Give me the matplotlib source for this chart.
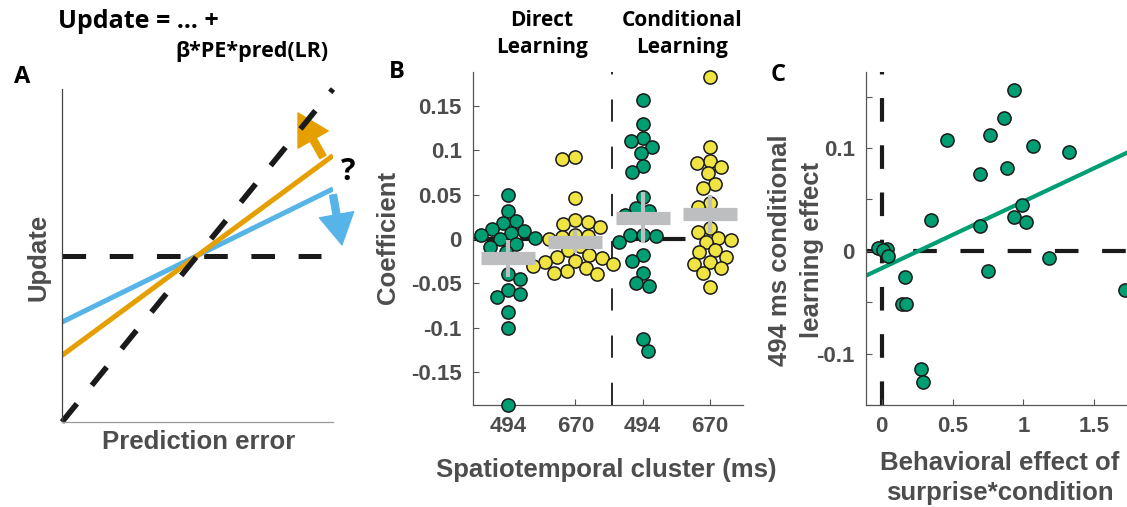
import numpy as np
import matplotlib
matplotlib.use("Agg")
import matplotlib.pyplot as plt
from matplotlib.patches import FancyArrowPatch, ArrowStyle

plt.rcParams['lines.scale_dashes'] = False

# ---------------- data ----------------
# Panel A (schematic)
pe_range = [0.0, 1.0]
slope_full = 1.0       # black dashed diagonal
slope_orange = 0.6
slope_blue = 0.4
pivot = 0.5

# Panel B
cluster_labels = ['494', '670', '494', '670']
direct_494 = [0.050, 0.031, 0.020, 0.018, 0.011, 0.009, 0.007, 0.004, 0.001, 0.0,
              -0.006, -0.009, -0.015, -0.040, -0.045, -0.058, -0.062, -0.065,
              -0.082, -0.100, -0.187]
direct_670 = [0.092, 0.090, 0.046, 0.021, 0.019, 0.017, 0.014, 0.005, 0.003, 0.002,
              0.0, -0.008, -0.012, -0.018, -0.020, -0.021, -0.025, -0.026, -0.028,
              -0.031, -0.033, -0.036, -0.038, -0.040]
cond_494 = [0.156, 0.130, 0.114, 0.110, 0.104, 0.097, 0.082, 0.075, 0.047, 0.035,
            0.032, 0.027, 0.005, 0.004, 0.003, -0.004, -0.018, -0.025, -0.038,
            -0.050, -0.053, -0.113, -0.126]
cond_670 = [0.182, 0.103, 0.088, 0.085, 0.081, 0.074, 0.062, 0.057, 0.040, 0.036,
            0.012, 0.008, 0.001, -0.001, -0.003, -0.013, -0.015, -0.020, -0.026,
            -0.028, -0.033, -0.038, -0.054]
group_means = [-0.022, -0.003, 0.024, 0.028]
group_ci = [0.021, 0.013, 0.029, 0.021]

# Panel C
behav_effect = [0.933, 0.862, 0.763, 0.461, 1.070, 1.323, 0.692, 0.886, 0.992, 0.933,
                1.016, 0.697, 0.350, -0.024, 0.035, 0.012, 0.047, 1.181, 0.751,
                0.165, 0.142, 0.172, 0.279, 0.291, 1.713]
neural_effect = [0.156, 0.129, 0.113, 0.108, 0.102, 0.096, 0.075, 0.081, 0.045, 0.033,
                 0.028, 0.024, 0.030, 0.003, 0.002, 0.001, -0.005, -0.0065, -0.020,
                 -0.025, -0.052, -0.052, -0.115, -0.128, -0.038]
fit_intercept = -0.017
fit_slope = 0.065

# ---------------- style ----------------
GREEN = '#009E73'
YELLOW = '#F0E442'
ORANGE = '#E69F00'
BLUE = '#56B4E9'
GREY_BAR = '#bcbec0'
TXT = '#4d4d4d'
EDGE = '#1a1a1a'
SANS = 'Liberation Sans'
HEAD = 'Open Sans'
DASH = (0, (17, 17))

W, H = 1127, 507
fig = plt.figure(figsize=(W / 100, H / 100), dpi=100)


def px_axes(l, t, r, b):
    return fig.add_axes([l / W, 1 - b / H, (r - l) / W, (b - t) / H])


def ftext(x, y, s, **kw):
    fig.text(x / W, 1 - y / H, s, **kw)


# ---------------- Panel A ----------------
axA = px_axes(62, 89, 333, 422)
axA.set_xlim(0, 1)
axA.set_ylim(0, 1)
for sp in ['top', 'right']:
    axA.spines[sp].set_visible(False)
axA.spines['left'].set_color('#444444')
axA.spines['bottom'].set_color('#999999')
axA.spines['left'].set_linewidth(0.9)
axA.spines['bottom'].set_linewidth(0.9)
axA.set_xticks([])
axA.set_yticks([])
xx = np.array(pe_range)
axA.plot([0, 0.955], [pivot, pivot], color='#1a1a1a', lw=3.6, linestyle=DASH,
         dash_capstyle='butt')
axA.plot(xx, pivot + slope_blue * (xx - pivot), color=BLUE, lw=3.6, solid_capstyle='butt')
axA.plot(xx, pivot + slope_orange * (xx - pivot), color=ORANGE, lw=3.6, solid_capstyle='butt')
axA.plot(xx, pivot + slope_full * (xx - pivot), color='#1a1a1a', lw=4, linestyle=DASH,
         dash_capstyle='butt', clip_on=False)
arr_o = FancyArrowPatch((0.963, 0.796), (0.871, 0.928),
                        arrowstyle=ArrowStyle.Simple(head_length=22, head_width=25, tail_width=5),
                        color=ORANGE, mutation_scale=1, shrinkA=0, shrinkB=0,
                        transform=axA.transData, clip_on=False)
axA.add_patch(arr_o)
arr_b = FancyArrowPatch((1.0, 0.682), (1.033, 0.532),
                        arrowstyle=ArrowStyle.Simple(head_length=22, head_width=25, tail_width=5),
                        color=BLUE, mutation_scale=1, shrinkA=0, shrinkB=0,
                        transform=axA.transData, clip_on=False)
axA.add_patch(arr_b)
ftext(348, 172, '?', fontsize=22, fontweight='bold', family=HEAD, ha='center', va='center')
ftext(199, 442, 'Prediction error', fontsize=18.5, fontweight='bold', family=SANS,
      color=TXT, ha='center', va='center')
ftext(38, 257, 'Update', fontsize=18.5, fontweight='bold', family=SANS, color=TXT,
      ha='center', va='center', rotation=90)
ftext(138, 21, 'Update = ... +', fontsize=18, fontweight='bold', family=HEAD,
      ha='center', va='center')
ftext(252, 52, 'β*PE*pred(LR)', fontsize=15.5, fontweight='bold', family=HEAD,
      ha='center', va='center')
ftext(22, 77, 'A', fontsize=17, fontweight='bold', family=HEAD, ha='center', va='center')

# ---------------- Panel B ----------------
axB = px_axes(473, 72, 743, 405)
axB.set_xlim(0.48, 4.49)
axB.set_ylim(-0.187, 0.188)
for sp in ['top', 'right']:
    axB.spines[sp].set_visible(False)
for sp in ['left', 'bottom']:
    axB.spines[sp].set_color('#555555')
    axB.spines[sp].set_linewidth(0.9)
axB.set_yticks([-0.15, -0.1, -0.05, 0, 0.05, 0.1, 0.15])
axB.set_yticklabels(['-0.15', '-0.1', '-0.05', '0', '0.05', '0.1', '0.15'])
axB.set_xticks([1, 2, 3, 4])
axB.set_xticklabels(cluster_labels)
axB.tick_params(direction='in', length=4, width=0.8, color='#555555',
                labelsize=16, labelcolor=TXT, pad=8)
for lab in axB.get_xticklabels() + axB.get_yticklabels():
    lab.set_fontweight('bold')
    lab.set_family(SANS)

axB.axhline(0, color='#1a1a1a', lw=3, linestyle=DASH, zorder=1)
axB.axvline(2.55, color='#1a1a1a', lw=1.3, linestyle=(0, (16, 18)), zorder=1)


def swarm_offsets(ax, vals, dmin_px):
    p0 = ax.transData.transform((0, 0))
    p1 = ax.transData.transform((1, 1))
    sx = p1[0] - p0[0]
    sy = p1[1] - p0[1]
    vals = np.asarray(vals, dtype=float)
    order = np.argsort(-vals)
    placed = []
    offs = np.zeros(len(vals))
    side = 1
    for i in order:
        y = vals[i] * sy
        cands = [0.0]
        for k in range(1, 80):
            cands += [side * k * 1.0, -side * k * 1.0]
        for c in cands:
            if all((c - px) ** 2 + (y - py) ** 2 >= dmin_px ** 2 for px, py in placed):
                break
        offs[i] = c
        placed.append((c, y))
        side = -side
    return offs / sx


groups = [direct_494, direct_670, cond_494, cond_670]
colors = [GREEN, YELLOW, GREEN, YELLOW]
for k, (vals, col) in enumerate(zip(groups, colors)):
    pos = k + 1
    offs = swarm_offsets(axB, vals, 12.5)
    axB.plot(pos + offs, vals, 'o', ms=9.5, mfc=col, mec=EDGE, mew=1.1, zorder=3,
             linestyle='none', clip_on=False)
    axB.plot([pos - 0.4, pos + 0.4], [group_means[k]] * 2, color=GREY_BAR, lw=9.5,
             solid_capstyle='butt', zorder=4)
    axB.plot([pos, pos], [group_means[k] - group_ci[k], group_means[k] + group_ci[k]],
             color=GREY_BAR, lw=3, solid_capstyle='butt', zorder=4)

ftext(388, 237, 'Coefficient', fontsize=18.5, fontweight='bold', family=SANS, color=TXT,
      ha='center', va='center', rotation=90)
ftext(606, 470, 'Spatiotemporal cluster (ms)', fontsize=18.5, fontweight='bold',
      family=SANS, color=TXT, ha='center', va='center')
ftext(542, 20, 'Direct', fontsize=15, fontweight='bold', family=HEAD,
      ha='center', va='center')
ftext(542, 48, 'Learning', fontsize=15, fontweight='bold', family=HEAD,
      ha='center', va='center')
ftext(682, 20, 'Conditional', fontsize=15, fontweight='bold', family=HEAD,
      ha='center', va='center')
ftext(682, 48, 'Learning', fontsize=15, fontweight='bold', family=HEAD,
      ha='center', va='center')
ftext(397, 72, 'B', fontsize=17, fontweight='bold', family=HEAD, ha='center', va='center')

# ---------------- Panel C ----------------
axC = px_axes(866, 72, 1127, 405)
axC.set_xlim(-0.11, 1.73)
axC.set_ylim(-0.148, 0.174)
for sp in ['top', 'right']:
    axC.spines[sp].set_visible(False)
for sp in ['left', 'bottom']:
    axC.spines[sp].set_color('#555555')
    axC.spines[sp].set_linewidth(0.9)
yt = [-0.15, -0.1, -0.05, 0, 0.05, 0.1, 0.15]
axC.set_yticks(yt)
axC.set_yticklabels(['', '-0.1', '', '0', '', '0.1', ''])
axC.set_xticks([0, 0.5, 1, 1.5])
axC.set_xticklabels(['0', '0.5', '1', '1.5'])
axC.tick_params(direction='in', length=4, width=0.8, color='#555555',
                labelsize=16, labelcolor=TXT, pad=8)
for lab in axC.get_xticklabels() + axC.get_yticklabels():
    lab.set_fontweight('bold')
    lab.set_family(SANS)

axC.axhline(0, color='#1a1a1a', lw=3, linestyle=DASH, zorder=1)
axC.axvline(0, color='#1a1a1a', lw=3, linestyle=DASH, zorder=1)
xl = np.array(axC.get_xlim())
axC.plot(xl, fit_intercept + fit_slope * xl, color=GREEN, lw=3, zorder=2)
axC.plot(behav_effect, neural_effect, 'o', ms=9.5, mfc=GREEN, mec=EDGE, mew=1.1,
         zorder=3, linestyle='none', clip_on=False)

ftext(780, 250, '494 ms conditional', fontsize=18.5, fontweight='bold',
      family=SANS, color=TXT, ha='center', va='center', rotation=90)
ftext(812, 250, 'learning effect', fontsize=18.5, fontweight='bold',
      family=SANS, color=TXT, ha='center', va='center', rotation=90)
ftext(1000, 463, 'Behavioral effect of', fontsize=18.5,
      fontweight='bold', family=SANS, color=TXT, ha='center', va='center')
ftext(1000, 493, 'surprise*condition', fontsize=18.5,
      fontweight='bold', family=SANS, color=TXT, ha='center', va='center')
ftext(778, 75, 'C', fontsize=17, fontweight='bold', family=HEAD, ha='center', va='center')

fig.savefig('out.png', dpi=100)
